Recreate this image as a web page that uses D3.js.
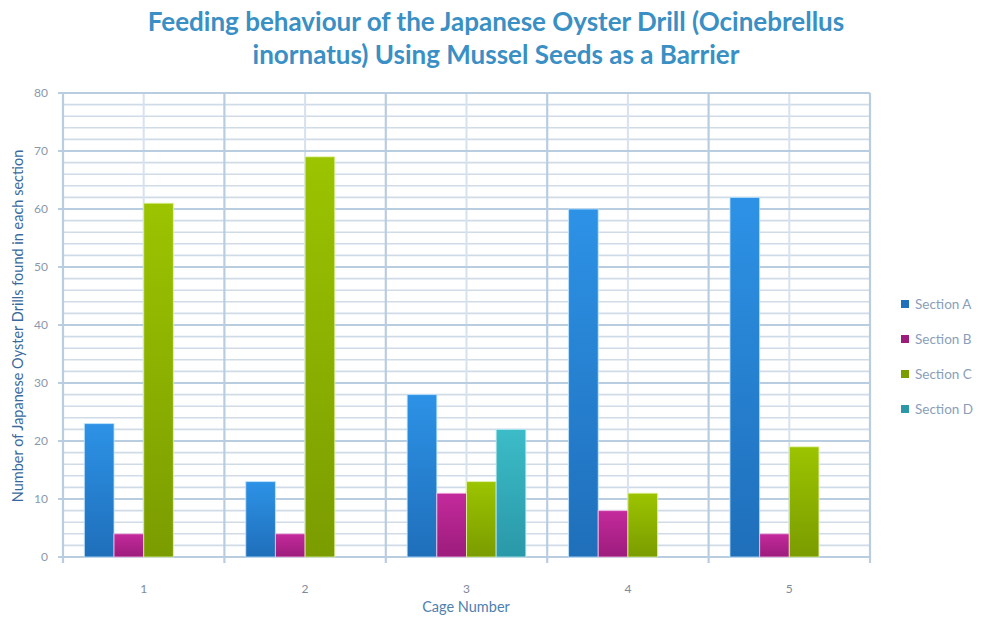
<!DOCTYPE html>
<html>
<head>
<meta charset="utf-8">
<script src="https://cdn.jsdelivr.net/npm/d3@7/dist/d3.min.js"></script>
<style>
  html, body { margin: 0; padding: 0; background: #fff; }
  svg { display: block; }
</style>
</head>
<body>
<svg id="chart" width="982" height="619"></svg>
<script>
// Cage numbers along the x axis
const cages = ["1", "2", "3", "4", "5"];
// Drill counts per section, one value per cage
const sectionA = [23, 13, 28, 60, 62];
const sectionB = [4, 4, 11, 8, 4];
const sectionC = [61, 69, 13, 11, 19];
const sectionD = [0, 0, 22, 0, 0];
const seriesNames = ["Section A", "Section B", "Section C", "Section D"];
const yTicks = [0, 10, 20, 30, 40, 50, 60, 70, 80];

const series = [sectionA, sectionB, sectionC, sectionD];
const colors = [
  { top: "#2d92e6", bottom: "#1f6fba", halo: "#bfe6ff" },
  { top: "#c42a9c", bottom: "#9c1c7c", halo: "#f6c9ec" },
  { top: "#9cc400", bottom: "#7b9c00", halo: "#e4f5a8" },
  { top: "#3cbcc8", bottom: "#2a98a8", halo: "#bdeef2" }
];
const FONT = "Lato, 'Open Sans', sans-serif";

const svg = d3.select("#chart");
const margin = { left: 63, right: 112, top: 93, bottom: 62 };
const W = 982, H = 619;
const plotW = W - margin.left - margin.right;
const plotH = H - margin.top - margin.bottom;

const defs = svg.append("defs");
colors.forEach((c, i) => {
  const grad = defs.append("linearGradient")
    .attr("id", "bar" + i).attr("x1", 0).attr("y1", 0).attr("x2", 0).attr("y2", 1);
  grad.append("stop").attr("offset", "0%").attr("stop-color", c.top);
  grad.append("stop").attr("offset", "100%").attr("stop-color", c.bottom);
});

const g = svg.append("g").attr("transform", `translate(${margin.left},${margin.top})`);

const x0 = d3.scaleBand().domain(cages).range([0, plotW]).paddingInner(0).paddingOuter(0);
const x1 = d3.scaleBand().domain(d3.range(series.length)).range([0, x0.bandwidth()]).paddingOuter(0.72).paddingInner(0);
const y = d3.scaleLinear().domain([0, 80]).range([plotH, 0]);

// Minor horizontal grid every 2 units
const minor = d3.range(2, 80, 2).filter(v => v % 10 !== 0);
g.append("g").selectAll("line").data(minor).join("line")
  .attr("x1", 0).attr("x2", plotW)
  .attr("y1", d => y(d)).attr("y2", d => y(d))
  .attr("stroke", "#cfdbe7").attr("stroke-width", 1.6);

// Vertical grid: category centres (light) and boundaries (strong)
const bounds = cages.map(c => x0(c)).concat([plotW]);
g.append("g").selectAll("line").data(cages).join("line")
  .attr("x1", d => x0(d) + x0.bandwidth() / 2).attr("x2", d => x0(d) + x0.bandwidth() / 2)
  .attr("y1", 0).attr("y2", plotH)
  .attr("stroke", "#d6e2ee").attr("stroke-width", 2);
g.append("g").selectAll("line").data(bounds).join("line")
  .attr("x1", d => d).attr("x2", d => d)
  .attr("y1", 0).attr("y2", plotH + 6)
  .attr("stroke", "#b9cde0").attr("stroke-width", 2.2);

// Major horizontal grid every 10 units
g.append("g").selectAll("line").data(yTicks).join("line")
  .attr("x1", -5).attr("x2", plotW)
  .attr("y1", d => y(d)).attr("y2", d => y(d))
  .attr("stroke", "#b9cde0").attr("stroke-width", 2.2);

// Y tick labels
const yAxis = d3.axisLeft(y).tickValues(yTicks).tickSize(0).tickPadding(15);
const ya = g.append("g").call(yAxis);
ya.select(".domain").remove();
ya.selectAll("text").attr("fill", "#8a99ab").style("font-family", FONT).style("font-size", "12px");

// X tick labels
const xAxis = d3.axisBottom(x0).tickSize(0).tickPadding(27);
const xa = g.append("g").attr("transform", `translate(0,${plotH})`).call(xAxis);
xa.select(".domain").remove();
xa.selectAll("text").attr("fill", "#7e8a99").style("font-family", FONT).style("font-size", "12px");

// Bars, each with a soft light outline
const groups = g.append("g").selectAll("g").data(cages).join("g")
  .attr("transform", d => `translate(${x0(d)},0)`);
groups.selectAll("rect")
  .data((c, ci) => series.map((s, si) => ({ si, v: s[ci] })).filter(d => d.v > 0))
  .join("rect")
  .attr("x", d => x1(d.si))
  .attr("width", x1.bandwidth())
  .attr("y", d => y(d.v))
  .attr("height", d => plotH - y(d.v))
  .attr("fill", d => `url(#bar${d.si})`)
  .attr("stroke", d => colors[d.si].halo)
  .attr("stroke-width", 1)
  .attr("stroke-opacity", 0.8);

// Legend
const legend = svg.append("g").attr("transform", "translate(901,304)");
seriesNames.forEach((name, i) => {
  const item = legend.append("g").attr("transform", `translate(0,${i * 35})`);
  item.append("rect").attr("x", 0).attr("y", -4).attr("width", 8).attr("height", 8)
    .attr("fill", colors[i].bottom);
  item.append("text").attr("x", 14).attr("y", 0).attr("dy", "0.35em")
    .attr("fill", "#8aa0ba").style("font-family", FONT).style("font-size", "13.5px")
    .text(name);
});

// Title
const title = svg.append("text").attr("text-anchor", "middle")
  .attr("fill", "#3a8fc4").style("font-family", FONT)
  .style("font-size", "26px").style("font-weight", "bold");
title.append("tspan").attr("x", 496).attr("y", 31).text("Feeding behaviour of the Japanese Oyster Drill (Ocinebrellus");
title.append("tspan").attr("x", 496).attr("y", 64).text("inornatus) Using Mussel Seeds as a Barrier");

// Axis titles
svg.append("text").attr("x", 466).attr("y", 612).attr("text-anchor", "middle")
  .attr("fill", "#4f7fae").style("font-family", FONT).style("font-size", "14.5px")
  .text("Cage Number");
svg.append("text").attr("transform", "translate(23,326) rotate(-90)").attr("text-anchor", "middle")
  .attr("fill", "#3a6a9c").style("font-family", FONT).style("font-size", "14.5px")
  .text("Number of Japanese Oyster Drills found in each section");
</script>
</body>
</html>
